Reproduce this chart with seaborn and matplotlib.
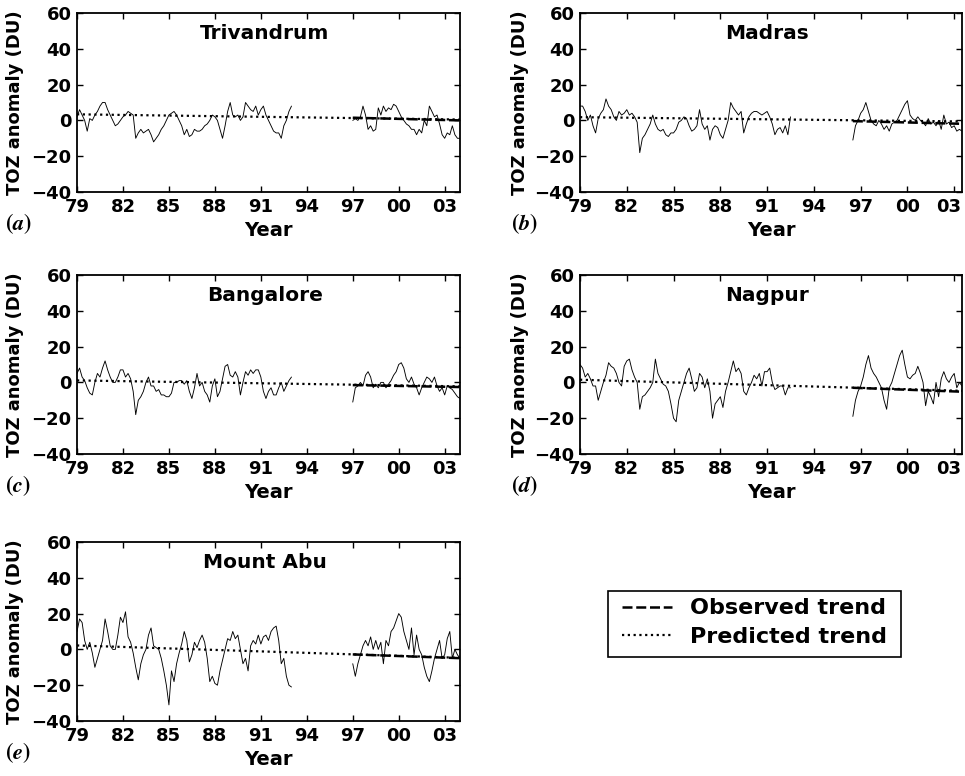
import numpy as np
import pandas as pd
import matplotlib
import matplotlib.pyplot as plt
import matplotlib.transforms as mtransforms
from matplotlib.patches import Rectangle
import seaborn as sns

matplotlib.use("Agg")

# ==========================================
# Data (~2 samples per month pair)
# ==========================================
stations = ["Trivandrum", "Madras", "Bangalore", "Nagpur", "Mount Abu"]
panel_tags = ["a", "b", "c", "d", "e"]

year_ticks = [1979, 1982, 1985, 1988, 1991, 1994, 1997, 2000, 2003]
year_tick_labels = ["79", "82", "85", "88", "91", "94", "97", "00", "03"]
x_end = [2004.0, 2003.5, 2004.0, 2003.5, 2004.0]

seg1_start = [1979.0, 1979.0, 1979.0, 1979.0, 1979.0]
seg2_start = [1997.0, 1996.5, 1997.0, 1996.5, 1997.0]

trivandrum_early = [
    2, 6, 3, 0, -6, 1,
    0, 3, 5, 8, 10, 10,
    6, 3, 0, -3, -2, 0,
    2, 3, 5, 4, 3, -10,
    -7, -5, -7, -6, -5, -8,
    -12, -10, -8, -5, -3, 0,
    3, 4, 5, 3, 0, -3,
    -8, -5, -9, -8, -5, -6,
    -6, -5, -3, -2, 0, 3,
    2, 0, -5, -10, -3, 5,
    10, 3, 2, 3, 0, 2,
    10, 8, 6, 5, 8, 3,
    6, 8, 3, 0, -3, -6,
    -7, -7, -10, -3, 0, 5,
    8,
]
trivandrum_late = [
    0, 1, 0, 2, 8, 3,
    -5, -3, -6, -5, 7, 3,
    8, 5, 7, 6, 9, 8,
    5, 2, 0, -2, -3, -5,
    -5, -8, -5, -7, 0, -3,
    8, 5, 2, 3, -2, -8,
    -10, -7, -8, -3, -8, -10,
    -10,
]

madras_early = [
    8, 8, 5, 0, 3, -3,
    -7, 1, 4, 6, 12, 8,
    6, 2, 0, 5, 3, 4,
    6, 3, 4, 2, -1, -18,
    -10, -8, -5, -2, 3, -2,
    -5, -6, -5, -8, -9, -7,
    -7, -5, -1, 0, 2, 1,
    -3, -6, -5, -3, 6, -2,
    -5, -3, -11, -5, -3, -4,
    -8, -10, -5, 0, 10, 7,
    5, 3, 5, -7, -2, 2,
    4, 5, 5, 4, 3, 4,
    5, 2, -2, -8, -5, -4,
    -7, -3, -8, 2,
]
madras_late = [
    -11, -3, 0,
    4, 6, 10, 5, 0, -2,
    -3, 0, -2, -5, -3, -6,
    -2, -1, 0, 3, 6, 9,
    11, 3, 1, 0, 2, 0,
    -1, -3, 1, -2, -1, -3,
    0, -5, 3, -2, -1, -4,
    -3, -6, -5, -6,
]

bangalore_early = [
    5, 8, 3, 1, -3, -6,
    -7, 0, 5, 3, 8, 12,
    7, 3, 0, 0, 3, 7,
    7, 3, 5, 2, -5, -18,
    -10, -8, -5, 0, 3, -2,
    -2, -5, -4, -7, -7, -8,
    -8, -6, 0, 0, 1, 1,
    -1, 1, -5, -9, -3, 5,
    -2, 0, -5, -7, -11, -2,
    2, -8, -5, 2, 9, 10,
    4, 3, 6, 3, -7, 0,
    6, 4, 7, 5, 7, 7,
    3, -5, -9, -5, -3, -7,
    -7, -3, 0, -5, -2, 1,
    3,
]
bangalore_late = [
    -11, -3, -2, 0, -2, 4,
    6, 3, -3, -1, -3, 0,
    0, -3, -1, 1, 4, 6,
    10, 11, 8, 2, 0, 3,
    -1, -3, -7, -3, 0, 3,
    2, 0, 3, -2, -5, -3,
    -7, -2, -3, -4, -6, -8,
    -9,
]

nagpur_early = [
    10, 8, 3, 5, 2, -2,
    -2, -10, -5, 0, 4, 11,
    9, 8, 5, 0, -2, 9,
    12, 13, 7, 3, 0, -15,
    -8, -7, -5, -3, 0, 13,
    5, 2, -1, -2, -5, -12,
    -20, -22, -10, -5, 0, 5,
    8, 2, -5, -3, 5, 3,
    -3, 2, -5, -20, -12, -10,
    -8, -14, -5, 0, 6, 12,
    6, 8, 5, -5, -7, -3,
    0, 4, 2, 5, -2, 6,
    6, 8, 0, -4, -3, -2,
    -2, -7, -3, -3,
]
nagpur_late = [
    -19, -10, -5,
    -2, 3, 10, 15, 8, 5,
    3, 0, -3, -10, -15, -3,
    0, 5, 10, 15, 18, 10,
    3, 2, 4, 5, 9, 5,
    0, -13, -5, -8, -12, 0,
    -8, 2, 6, 2, 0, 3,
    5, -3, 0, -2,
]

mountabu_early = [
    10, 17, 15, 5, 0, 4,
    -2, -10, -5, 0, 5, 17,
    10, 2, 0, 0, 8, 18,
    15, 21, 7, 4, -2, -10,
    -17, -8, -3, 0, 8, 12,
    2, 1, 0, -5, -12, -20,
    -31, -12, -18, -8, -2, 3,
    10, 5, -7, -3, 4, 1,
    5, 8, 4, -5, -18, -15,
    -19, -20, -12, -6, 0, 6,
    5, 10, 6, 8, 0, -8,
    -5, -12, 2, 5, 3, 8,
    3, 7, 8, 5, 10, 12,
    13, 5, -8, -5, -15, -20,
    -21,
]
mountabu_late = [
    -8, -15, -8, -3, 2, 5,
    2, 7, 0, 5, 0, 4,
    -8, 5, 2, 10, 12, 16,
    20, 18, 10, 5, 0, 12,
    -3, 8, 0, -3, -10, -15,
    -18, -12, -5, 0, 5, -5,
    -3, 6, 10, -5, 0, -3,
    -5,
]

early_series = [trivandrum_early, madras_early, bangalore_early, nagpur_early, mountabu_early]
late_series = [trivandrum_late, madras_late, bangalore_late, nagpur_late, mountabu_late]

# trend lines: predicted (whole period) and observed (second period)
pred_first = [3.4, 1.8, 1.1, 1.5, 2.2]
pred_last = [0.5, -0.6, -2.2, -4.7, -4.7]
obs_first = [1.5, -0.4, -1.5, -3.0, -2.8]
obs_last = [0.0, -1.9, -2.6, -5.2, -4.9]

# ==========================================
# Long table
# ==========================================
rows = []
for i, name in enumerate(stations):
    for seg, (start, vals) in enumerate(
        [(seg1_start[i], early_series[i]), (seg2_start[i], late_series[i])]
    ):
        for k, v in enumerate(vals):
            rows.append({"station": name, "segment": seg, "year": start + k / 6.0, "anomaly": v})
df = pd.DataFrame(rows)

# ==========================================
# Figure
# ==========================================
sns.set_style("ticks")
plt.rcParams["font.family"] = ["DejaVu Sans"]
plt.rcParams["font.weight"] = "bold"
plt.rcParams["axes.labelweight"] = "bold"
plt.rcParams["mathtext.fontset"] = "stix"
for key in ["text.color", "axes.labelcolor", "xtick.color", "ytick.color", "axes.edgecolor"]:
    plt.rcParams[key] = "black"

fig = plt.figure(figsize=(9.65, 7.76), dpi=100)
W, H = 965.0, 776.0

# pixel boxes (left, top, right, bottom) and x of the panel tag
boxes = [
    (77, 13, 460, 192),
    (580, 13, 962, 192),
    (77, 275, 460, 454),
    (580, 275, 962, 454),
    (77, 542, 460, 721),
]
tag_x = [5, 511, 5, 511, 5]
ylab_x = [15, 520, 15, 520, 15]

pred_line = obs_line = None
for i, name in enumerate(stations):
    l, t, r, b = boxes[i]
    ax = fig.add_axes([l / W, 1 - b / H, (r - l) / W, (b - t) / H])
    sub = df[df["station"] == name]
    sns.lineplot(
        data=sub, x="year", y="anomaly", units="segment", estimator=None,
        color="black", linewidth=0.65, ax=ax, legend=False,
    )
    (pred_line,) = ax.plot(
        [seg1_start[i], x_end[i]], [pred_first[i], pred_last[i]],
        color="black", linestyle=(0, (1, 1.6)), linewidth=1.6,
    )
    (obs_line,) = ax.plot(
        [seg2_start[i], x_end[i]], [obs_first[i], obs_last[i]],
        color="black", linestyle=(0, (4, 1.5)), linewidth=1.8,
    )

    ax.set_xlim(1979, x_end[i])
    ax.set_ylim(-40, 60)
    ax.set_xticks(year_ticks)
    ax.set_xticklabels(year_tick_labels)
    ax.set_yticks([-40, -20, 0, 20, 40, 60])
    ax.tick_params(direction="in", top=True, right=True, length=4, width=1,
                   labelsize=13, pad=4)
    for sp in ax.spines.values():
        sp.set_linewidth(1.3)

    # the last year label sits at the figure edge in the right-hand panels
    if x_end[i] < 2004:
        last = ax.get_xticklabels()[-1]
        last.set_transform(last.get_transform()
                           + mtransforms.ScaledTranslation(-4 / 72, 0, fig.dpi_scale_trans))

    ax.set_xlabel("Year", fontsize=14, va="center")
    ax.xaxis.set_label_coords(0.5, -0.215)
    ax.set_ylabel("TOZ anomaly (DU)", fontsize=13, va="center")
    ax.yaxis.set_label_coords((ylab_x[i] - l) / (r - l), 0.5)

    ax.text(0.49, 0.888, name, transform=ax.transAxes, ha="center", va="center",
            fontsize=14.5, fontweight="bold")
    ax.text((tag_x[i] - l) / (r - l), -0.175, "$(" + panel_tags[i] + ")$",
            transform=ax.transAxes, ha="left", va="center", fontsize=16,
            fontweight="normal")

# legend: entries without frame, plus a plain square box around them
fig.legend(
    [obs_line, pred_line], ["Observed trend", "Predicted trend"],
    loc="center left", bbox_to_anchor=(622 / W, 1 - 622.5 / H),
    frameon=False, fontsize=16, handlelength=2.25, handletextpad=0.8,
    labelspacing=0.38, borderpad=0, borderaxespad=0,
)
fig.patches.append(Rectangle(
    (608 / W, 1 - 657 / H), (901 - 608) / W, (657 - 591) / H,
    transform=fig.transFigure, fill=False, edgecolor="black", linewidth=1.2,
))

fig.savefig("out.png", dpi=100)
plt.close(fig)
